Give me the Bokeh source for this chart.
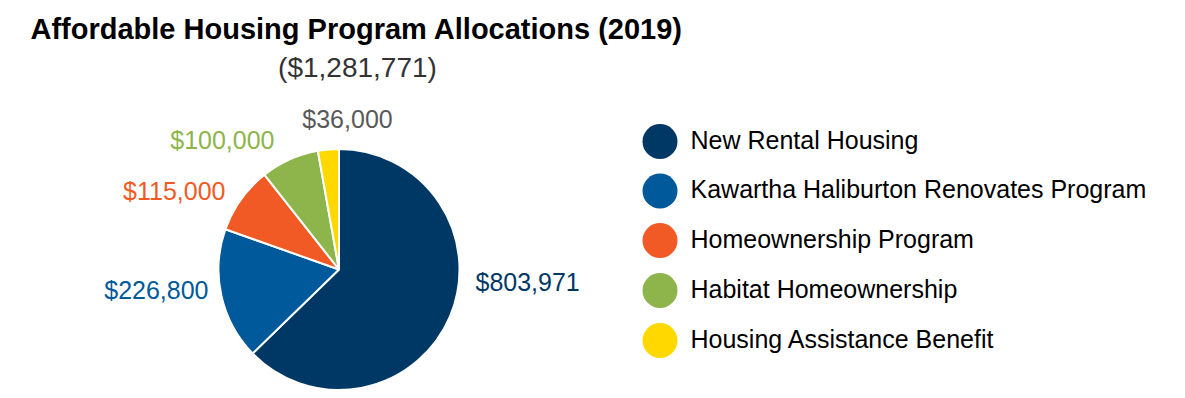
import numpy as np
from bokeh.plotting import figure
from bokeh.models import ColumnDataSource
from bokeh.core.properties import value
from bokeh.embed import file_html
from bokeh.resources import INLINE

# ---- data ----
categories = ["New Rental Housing", "Kawartha Haliburton Renovates Program",
              "Homeownership Program", "Habitat Homeownership",
              "Housing Assistance Benefit"]
amounts = [803971, 226800, 115000, 100000, 36000]
amount_labels = ["$803,971", "$226,800", "$115,000", "$100,000", "$36,000"]
title_text = "Affordable Housing Program Allocations (2019)"
subtitle_text = "($1,281,771)"

# ---- style ----
colors = ["#003865", "#00599A", "#F15A24", "#8DB54B", "#FFD800"]
label_colors = ["#003865", "#00599A", "#F15A24", "#8DB54B", "#595959"]
FONT = "Liberation Sans"

W, H = 1169, 398
TOFF = 9  # text baseline correction


def X(px):
    return px


def Y(py):
    return H - py


def TY(py):
    return H - py + TOFF


p = figure(width=W, height=H, x_range=(0, W), y_range=(0, H),
           output_backend="svg", toolbar_location=None,
           x_axis_type=None, y_axis_type=None, min_border=0)
p.grid.visible = False
p.outline_line_color = None
p.background_fill_color = "white"

# pie
frac = np.array(amounts, dtype=float) / sum(amounts)
cum = np.concatenate([[0], np.cumsum(frac)])
start = np.pi / 2 - 2 * np.pi * cum[:-1]
end = np.pi / 2 - 2 * np.pi * cum[1:]
cx, cy, r = X(338.5), Y(269), 120.5
src = ColumnDataSource(dict(start=start, end=end, color=colors, cat=categories))
p.wedge(x=cx, y=cy, radius=r, start_angle="start", end_angle="end",
        direction="clock", fill_color="color", line_color="white",
        line_width=2, source=src)

# value labels
lx = [X(475), X(208), X(225), X(274), X(347)]
ly = [TY(290), TY(298), TY(199), TY(148), TY(127)]
lalign = ["left", "right", "right", "right", "center"]
lsrc = ColumnDataSource(dict(x=lx, y=ly, t=amount_labels, c=label_colors, a=lalign))
p.text(x="x", y="y", text="t", text_color="c", text_align="a",
       text_baseline="alphabetic", text_font=value(FONT),
       text_font_size="25px", source=lsrc)

# legend
leg_py = [141, 190.5, 240, 290, 340]
p.scatter(x=[X(659.5)] * 5, y=[Y(v) for v in leg_py], size=35, color=colors,
          line_color=None)
p.text(x=[X(690)] * 5, y=[TY(v + 7) for v in leg_py], text=categories,
       text_color="black", text_baseline="alphabetic",
       text_font=value(FONT), text_font_size="25px")

# title & subtitle
p.text(x=[X(30)], y=[TY(37)], text=[title_text], text_color="black",
       text_font=value(FONT), text_font_style="bold", text_font_size="29px",
       text_baseline="alphabetic")
p.text(x=[X(357)], y=[TY(76)], text=[subtitle_text], text_color="#333333",
       text_font=value(FONT), text_font_size="28px", text_align="center",
       text_baseline="alphabetic")

open("out.html", "w").write(file_html(p, INLINE))
